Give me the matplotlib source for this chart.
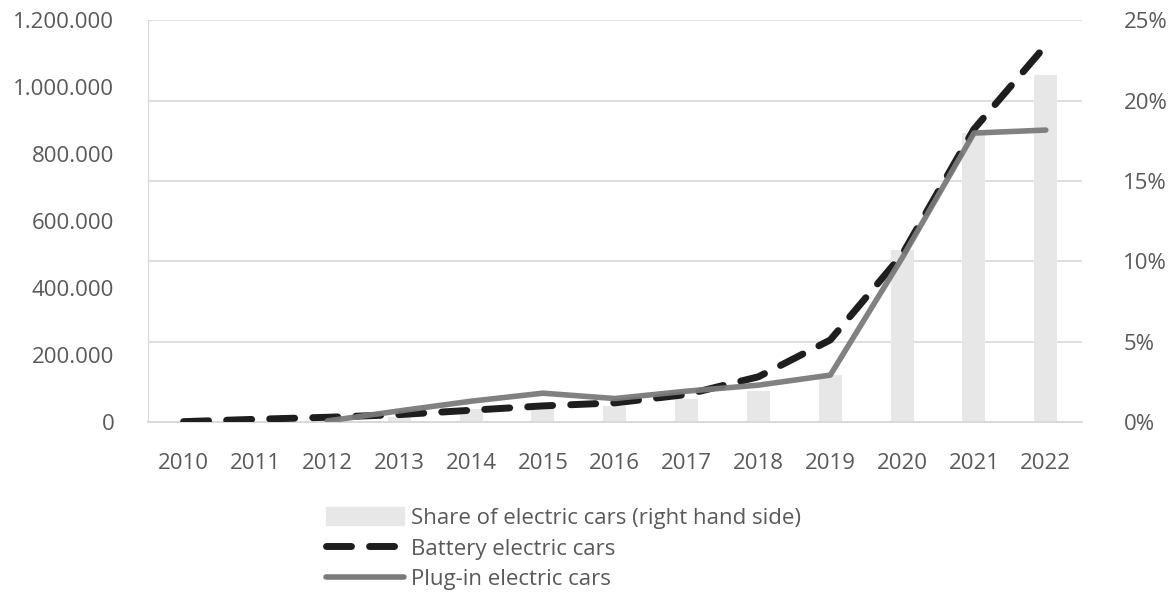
import numpy as np
import matplotlib.pyplot as plt
from matplotlib.patches import Patch
from matplotlib.lines import Line2D
from matplotlib.ticker import FuncFormatter

plt.rcParams['font.family'] = ['Open Sans', 'DejaVu Sans']

years = ['2010', '2011', '2012', '2013', '2014', '2015', '2016',
         '2017', '2018', '2019', '2020', '2021', '2022']
share = [0.0, 0.0, 0.1, 0.3, 0.8, 0.8, 1.0, 1.4, 1.9, 2.9, 10.7, 18.0, 21.6]
battery = [1000, 8000, 14000, 22000, 35000, 48000, 57000,
           82000, 135000, 245000, 500000, 875000, 1125000]
plugin = [np.nan, np.nan, 3000, 33000, 62000, 86000, 70000,
          92000, 110000, 140000, 490000, 863000, 872000]

txt = '#595959'
grid = '#d9d9d9'
fs = 16

fig = plt.figure(figsize=(11.72, 5.96), dpi=100)
ax = fig.add_axes([0.126, 0.292, 0.797, 0.674])
ax2 = ax.twinx()
ax.set_zorder(ax2.get_zorder() + 1)
ax.patch.set_visible(False)

x = np.arange(len(years))
ax2.bar(x, share, width=0.32, color='#e7e7e7', zorder=2)
ax2.set_ylim(0, 25)
ax2.set_yticks([0, 5, 10, 15, 20, 25])
ax2.yaxis.set_major_formatter(FuncFormatter(lambda v, p: '%d%%' % v))

ax.plot(x, battery, color='#1e1e1e', lw=5, dashes=(3.6, 2.6),
        dash_capstyle='round', zorder=3)
ax.plot(x, plugin, color='#7a7a7a', lw=4, alpha=0.95,
        solid_capstyle='round', zorder=4)
ax.set_ylim(0, 1200000)
ax.set_yticks(np.arange(0, 1200001, 200000))
ax.yaxis.set_major_formatter(FuncFormatter(lambda v, p: '{:,}'.format(int(v)).replace(',', '.')))
ax.set_xlim(-0.5, len(years) - 0.5)
ax.set_xticks(x)
ax.set_xticklabels(years)

ax2.grid(axis='y', color=grid, lw=1.2, zorder=0)
ax2.set_axisbelow(True)
for a in (ax, ax2):
    for s in ['top', 'right', 'left']:
        a.spines[s].set_visible(False)
    a.spines['bottom'].set_color(grid)
    a.spines['bottom'].set_linewidth(1.2)
    a.tick_params(length=0, labelsize=fs, colors=txt)
ax.spines['left'].set_visible(True)
ax.spines['left'].set_color(grid)
ax.tick_params(axis='y', pad=24)
ax2.tick_params(axis='y', pad=30)
ax.tick_params(axis='x', pad=22)

handles = [Patch(color='#e7e7e7'),
           Line2D([], [], color='#1e1e1e', lw=5, dashes=(3.6, 2.6), dash_capstyle='round'),
           Line2D([], [], color='#7a7a7a', lw=4, solid_capstyle='round')]
labels = ['Share of electric cars (right hand side)',
          'Battery electric cars', 'Plug-in electric cars']
fig.legend(handles, labels, loc='upper left', bbox_to_anchor=(0.269, 0.168),
           frameon=False, fontsize=fs, labelcolor=txt, handlelength=3.5,
           handleheight=0.9, handletextpad=0.3, labelspacing=0.4, borderpad=0)

fig.savefig('out.png', dpi=100)
